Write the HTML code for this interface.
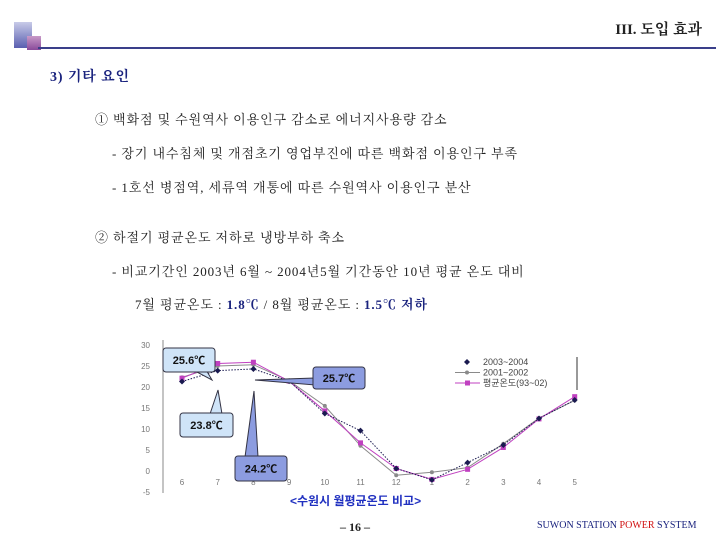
<!DOCTYPE html>
<html><head><meta charset="utf-8">
<style>
body{margin:0;width:720px;height:540px;background:#fff;position:relative;overflow:hidden;font-family:"Liberation Serif","Noto Serif CJK SC","Noto Sans CJK KR",serif;color:#222}
.t{position:absolute;white-space:nowrap;font-size:13px;letter-spacing:0.9px}
b.n{color:#1a237e}
</style></head><body>
<div style="position:absolute;left:14px;top:22px;width:18px;height:26px;background:linear-gradient(#c8cbe8,#5a5fb0)"></div>
<div style="position:absolute;left:27px;top:36px;width:14px;height:14px;background:linear-gradient(#c89ac8,#8a4a9a)"></div>
<div style="position:absolute;left:38px;top:47px;width:678px;height:2px;background:#3a3f8a"></div>
<div class="t" style="right:18px;top:18px;font-size:15px;font-weight:bold;letter-spacing:0">III. 도입 효과</div>
<div class="t" style="left:50px;top:66px;font-size:14px;font-weight:bold;color:#1a237e">3) 기타 요인</div>
<div class="t" style="left:95px;top:109px">① 백화점 및 수원역사 이용인구 감소로 에너지사용량 감소</div>
<div class="t" style="left:112px;top:143px">- 장기 내수침체 및 개점초기 영업부진에 따른 백화점 이용인구 부족</div>
<div class="t" style="left:112px;top:177px">- 1호선 병점역, 세류역 개통에 따른 수원역사 이용인구 분산</div>
<div class="t" style="left:95px;top:227px">② 하절기 평균온도 저하로 냉방부하 축소</div>
<div class="t" style="left:112px;top:261px">- 비교기간인 2003년 6월 ~ 2004년5월 기간동안 10년 평균 온도 대비</div>
<div class="t" style="left:135px;top:294px">7월 평균온도 : <b class="n">1.8℃</b> / 8월 평균온도 : <b class="n">1.5℃ 저하</b></div>

<svg id="chart" width="720" height="540" style="position:absolute;left:0;top:0" font-family="Liberation Sans, Noto Sans CJK KR, sans-serif"></svg>

<div class="t" style="left:290px;top:492px;font-size:12px;font-weight:bold;letter-spacing:0;color:#2030c0;font-family:'Liberation Sans','Noto Sans CJK KR',sans-serif">&lt;수원시 월평균온도 비교&gt;</div>
<div class="t" style="left:340px;top:520px;font-size:12px;font-weight:bold;letter-spacing:0">– 16 –</div>
<div class="t" style="left:537px;top:520px;font-size:10px;letter-spacing:0;color:#1a237e">SUWON STATION <span style="color:#d01010">POWER</span> SYSTEM</div>

<script>
const months=['6','7','8','9','10','11','12','1','2','3','4','5'];
const yTicks=[30,25,20,15,10,5,0,-5];
const s2003=[21.3,23.9,24.3,21.4,13.7,9.6,0.6,-2.1,2.0,6.2,12.5,16.9];
const s2001=[22.3,25.0,25.3,21.5,15.5,6.0,-1.0,-0.3,0.8,6.5,12.6,16.8];
const sAvg=[22.1,25.6,25.9,21.4,14.3,6.7,0.6,-2.0,0.4,5.6,12.4,17.7];
const names=['2003~2004','2001~2002','평균온도(93~02)'];

const svg=document.getElementById('chart');
const NS='http://www.w3.org/2000/svg';
const X=i=>182+i*35.7;
const Y=v=>471-v*4.2;
function mk(t,a,p){const e=document.createElementNS(NS,t);for(const k in a)e.setAttribute(k,a[k]);(p||svg).appendChild(e);return e;}

const ax=mk('line',{x1:163,y1:340,x2:163,y2:493,stroke:'#888'});


yTicks.forEach(v=>{const t=mk('text',{x:150,y:Y(v)+3,'font-size':8,fill:'#777','text-anchor':'end'});t.textContent=v;

});
months.forEach((m,i)=>{const t=mk('text',{x:X(i),y:485,'font-size':8,fill:'#777','text-anchor':'middle'});t.textContent=m;

});

function series(vals,color,dash,marker,name){
 const p=mk('polyline',{points:vals.map((v,i)=>X(i)+','+Y(v)).join(' '),fill:'none',stroke:color,'stroke-width':1,'stroke-dasharray':dash});
 
 
 vals.forEach((v,i)=>{let m;
  if(marker==='sq')m=mk('rect',{x:X(i)-2.5,y:Y(v)-2.5,width:5,height:5,fill:color});
  else if(marker==='dia')m=mk('path',{d:`M${X(i)},${Y(v)-3}l3,3l-3,3l-3,-3z`,fill:color});
  else m=mk('circle',{cx:X(i),cy:Y(v),r:2,fill:color});
  
  });
}
series(s2001,'#8a8a8a','','c','series-2001-2002');
series(sAvg,'#c040c0','','sq','series-average');
series(s2003,'#1a1a50','1.5,1.5','dia','series-2003-2004');

const lg=mk('g',{});


[['#1a1a50','dia'],['#8a8a8a','c'],['#c040c0','sq']].forEach((s,i)=>{
 const y=362+i*10.5;
 if(i>0)mk('line',{x1:455,y1:y,x2:480,y2:y,stroke:s[0]},lg);
 if(s[1]==='sq')mk('rect',{x:465,y:y-2.5,width:5,height:5,fill:s[0]},lg);
 else if(s[1]==='dia')mk('path',{d:`M467,${y-3}l3,3l-3,3l-3,-3z`,fill:s[0]},lg);
 else mk('circle',{cx:467,cy:y,r:2,fill:s[0]},lg);
 const t=mk('text',{x:483,y:y+3,'font-size':9,fill:'#444'},lg);t.textContent=names[i];
 
 
});
mk('line',{x1:577,y1:357,x2:577,y2:390,stroke:'#333'},lg);

function callout(x,y,w,h,tip,fill,label,name){
 const g=mk('g',{});
 
 
 mk('polygon',{points:tip,fill:fill,stroke:'#334'},g);
 mk('rect',{x:x,y:y,width:w,height:h,rx:3,fill:fill,stroke:'#334'},g);
 const t=mk('text',{x:x+w/2,y:y+h/2+4,'font-size':11,'font-weight':'bold','text-anchor':'middle',fill:'#111'},g);t.textContent=label;
}
callout(163,348,52,24,'205,368 212,380 195,371','#cfe4f8','25.6℃','callout-25-6');
callout(313,367,52,22,'315,378 255,380 315,385','#8c9ce0','25.7℃','callout-25-7');
callout(180,413,53,24,'210,414 218,390 222,414','#cfe4f8','23.8℃','callout-23-8');
callout(235,456,52,25,'245,457 254,391 258,457','#8c9ce0','24.2℃','callout-24-2');
</script>
</body></html>
